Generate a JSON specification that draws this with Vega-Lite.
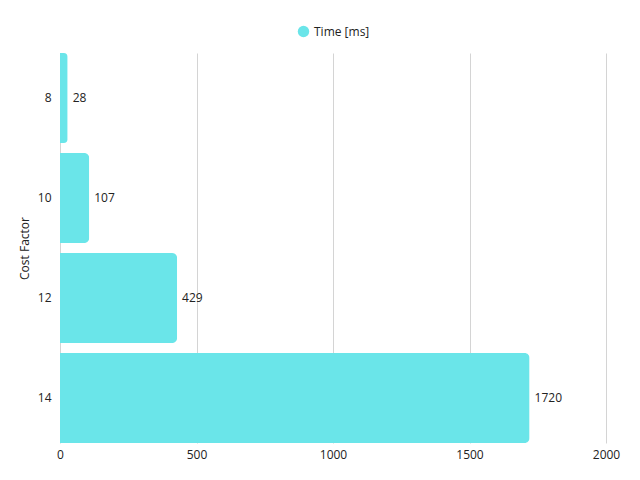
{
  "$schema": "https://vega.github.io/schema/vega-lite/v6.json",
  "autosize": "none",
  "width": 546,
  "height": 390,
  "padding": {"left": 60, "top": 53, "right": 34, "bottom": 37},
  "background": "white",
  "data": {
    "values": [
      {"cost": "8", "series": "Time [ms]", "time": 28},
      {"cost": "10", "series": "Time [ms]", "time": 107},
      {"cost": "12", "series": "Time [ms]", "time": 429},
      {"cost": "14", "series": "Time [ms]", "time": 1720}
    ]
  },
  "encoding": {
    "y": {
      "field": "cost",
      "type": "ordinal",
      "sort": null,
      "title": "Cost Factor",
      "scale": {"paddingInner": 0.1, "paddingOuter": 0},
      "axis": {"domain": false, "ticks": false, "labelPadding": 9, "titlePadding": 6, "grid": false}
    },
    "x": {
      "field": "time",
      "type": "quantitative",
      "title": null,
      "scale": {"domain": [0, 2000], "nice": false},
      "axis": {"values": [0, 500, 1000, 1500, 2000], "format": "d", "domain": false, "ticks": false, "labelPadding": 6, "gridColor": "#d4d4d4", "labelFlush": false}
    }
  },
  "layer": [
    {
      "mark": {"type": "bar", "cornerRadiusEnd": 5},
      "encoding": {
        "color": {
          "field": "series",
          "type": "nominal",
          "scale": {"range": ["#6ae5e9"]},
          "legend": {"orient": "top", "direction": "horizontal", "title": null, "symbolType": "circle", "symbolSize": 130, "offset": 15, "labelFontSize": 12}
        }
      }
    },
    {
      "mark": {"type": "text", "align": "left", "dx": 5, "fontSize": 12, "color": "#222", "font": "Open Sans"},
      "encoding": {"text": {"field": "time", "type": "quantitative", "format": "d"}}
    }
  ],
  "config": {
    "view": {"stroke": null},
    "font": "Open Sans",
    "axis": {"labelFontSize": 12, "titleFontSize": 12, "labelColor": "#222", "titleColor": "#222", "titleFontWeight": "normal"},
    "legend": {"labelColor": "#222", "labelFont": "Open Sans", "layout": {"top": {"anchor": "middle"}}}
  }
}
